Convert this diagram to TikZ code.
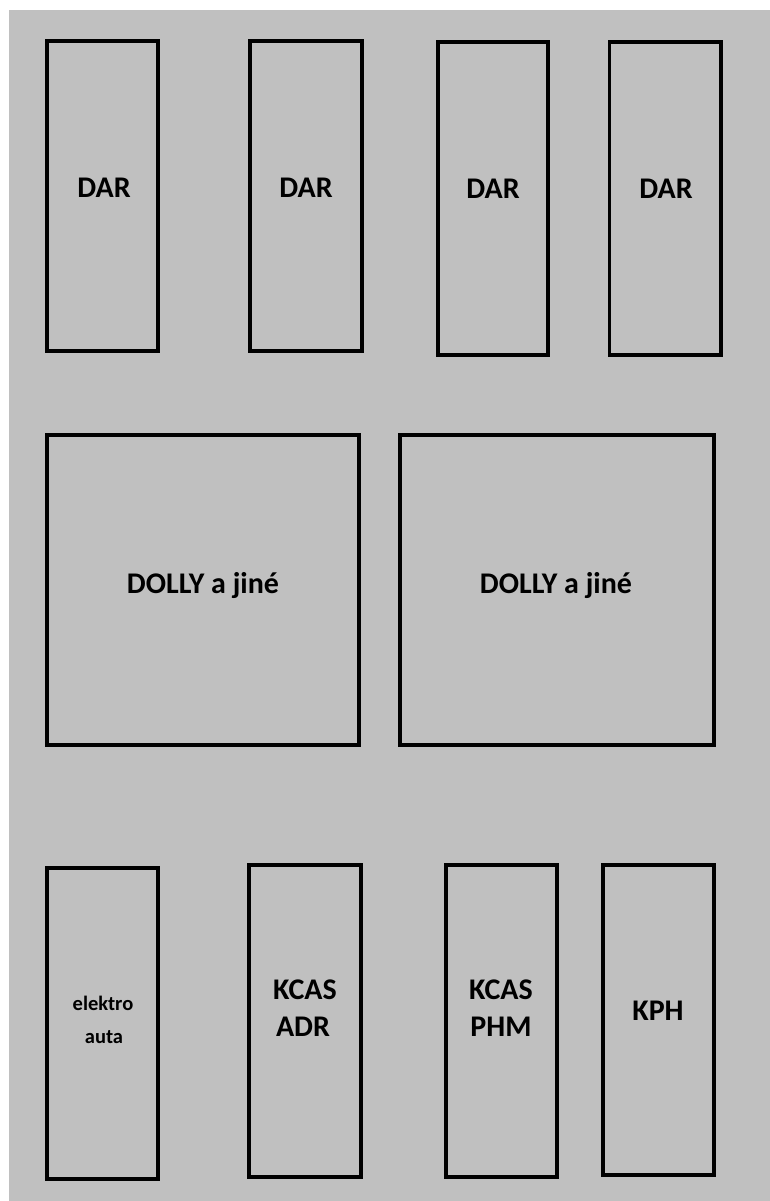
\documentclass[tikz,border=0pt]{standalone}
\usepackage{fontspec}
\setmainfont{Carlito}
\definecolor{bggray}{HTML}{C0C0C0}
\tikzset{
  box/.style={draw=black, line width=3.5pt, inner sep=0pt, outer sep=0pt},
  lbl/.style={anchor=base, inner sep=0pt, font=\fontsize{30}{30}\selectfont\bfseries, text=black},
  small/.style={anchor=base, inner sep=0pt, font=\fontsize{20.5}{20.5}\selectfont\bfseries, text=black}
}
\begin{document}
\begin{tikzpicture}[x=1pt,y=-1pt]
\useasboundingbox (0,0) rectangle (770,1201);
\fill[white] (0,0) rectangle (770,1201);
\fill[bggray] (9,10) rectangle (770,1201);
% top row
\node[box, minimum width=111pt, minimum height=310pt] (d1) at (102.5,196) {};
\node[box, minimum width=112pt, minimum height=310pt] (d2) at (306,196) {};
\node[box, minimum width=110pt, minimum height=313pt] (d3) at (493,198.5) {};
\node[box, minimum width=111.5pt, minimum height=312.5pt] (d4) at (665,198.5) {};
\node[lbl] (t1) at (104,197) {DAR};
\node[lbl] (t2) at (306,197) {DAR};
\node[lbl] (t3) at (493,199) {DAR};
\node[lbl] (t4) at (666,199) {DAR};
% middle row
\node[box, minimum width=312pt, minimum height=310pt] (m1) at (203,590) {};
\node[box, minimum width=314pt, minimum height=310pt] (m2) at (557,590) {};
\node[lbl] (tm1) at (203,593) {DOLLY a jiné};
\node[lbl] (tm2) at (556,593) {DOLLY a jiné};
% bottom row
\node[box, minimum width=111pt, minimum height=311pt] (b1) at (102.5,1023.5) {};
\node[box, minimum width=112pt, minimum height=312pt] (b2) at (305,1021) {};
\node[box, minimum width=111pt, minimum height=312pt] (b3) at (501.5,1021) {};
\node[box, minimum width=111pt, minimum height=310pt] (b4) at (658.5,1020) {};
\node[small] (tb1a) at (103,1010) {elektro};
\node[small] (tb1b) at (104,1043) {auta};
\node[lbl] (tb2a) at (305,999) {KCAS};
\node[lbl] (tb2b) at (303,1036) {ADR};
\node[lbl] (tb3a) at (501,999) {KCAS};
\node[lbl] (tb3b) at (501,1036) {PHM};
\node[lbl] (tb4) at (658,1020) {KPH};
\end{tikzpicture}
\end{document}
